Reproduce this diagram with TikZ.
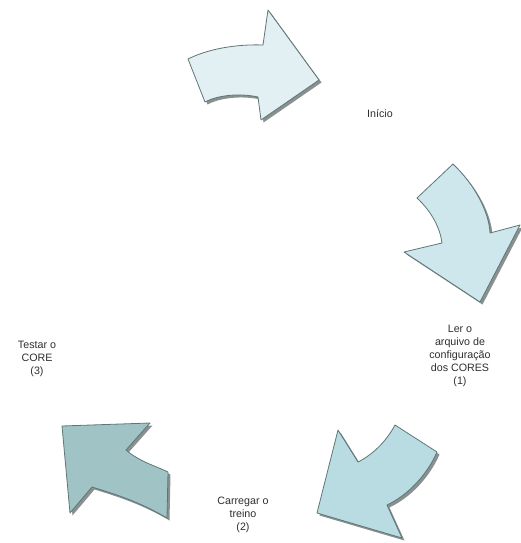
\documentclass[tikz,border=0pt]{standalone}
\usepackage{fontspec}
\setmainfont{Liberation Sans}
\usetikzlibrary{positioning}
\definecolor{edge}{HTML}{5E7677}
\definecolor{shade}{HTML}{8A8F90}
\definecolor{washA}{HTML}{E2F0F3}
\definecolor{washB}{HTML}{CDE7EC}
\definecolor{washC}{HTML}{B8DCE1}
\definecolor{washD}{HTML}{A0C3C6}
\definecolor{label}{HTML}{2E2E2E}
\tikzset{
cyclearrow/.style={draw=edge,line width=.8pt,line join=round},
dropshadow/.style={fill=shade,draw=none,shift={(2.5,2.5)}},
steplabel/.style={align=center,font=\fontsize{10.7}{12.9}\selectfont,text=label,inner sep=1pt}}
% arrow outlines, in pixels of the reference
\newcommand{\arrowStart}{(188,59) .. controls (208,49) and (236,44) .. (263,45) -- (268,10) -- (319,80) -- (261,120) -- (258,97) .. controls (240,93) and (218,95) .. (205,102) -- cycle}
\newcommand{\arrowOne}{(453,164) .. controls (475,185) and (489,212) .. (490,233) -- (520,225) -- (480,302) -- (404,252) -- (442,243) .. controls (440,228) and (432,212) .. (417,198) -- cycle}
\newcommand{\arrowTwo}{(395,425) -- (437,452) .. controls (427,475) and (408,495) .. (387,505) -- (402,538) -- (317,513) -- (338,430) -- (358,462) .. controls (372,455) and (386,442) .. (395,425) -- cycle}
\newcommand{\arrowThree}{(62,426) -- (150,423) -- (126,450) .. controls (140,462) and (156,466) .. (168,472) -- (167,518) .. controls (140,502) and (115,494) .. (92,487) -- (70,513) -- cycle}
\begin{document}
\begin{tikzpicture}[x=1pt,y=-1pt]
\useasboundingbox (0,0) rectangle (521,543);
% shadows
\fill[dropshadow] \arrowStart;
\fill[dropshadow] \arrowOne;
\fill[dropshadow] \arrowTwo;
\fill[dropshadow] \arrowThree;
% arrows
\filldraw[cyclearrow,fill=washA] \arrowStart;
\filldraw[cyclearrow,fill=washB] \arrowOne;
\filldraw[cyclearrow,fill=washC] \arrowTwo;
\filldraw[cyclearrow,fill=washD] \arrowThree;
% labels
\node[steplabel] (inicio) at (380,114) {Início};
\node[steplabel] (ler) at (460,356) {Ler o\\arquivo de\\configuração\\dos CORES\\(1)};
\node[steplabel] (carregar) at (243,515) {Carregar o\\treino\\(2)};
\node[steplabel] (testar) at (37,359) {Testar o\\CORE\\(3)};
\end{tikzpicture}
\end{document}
